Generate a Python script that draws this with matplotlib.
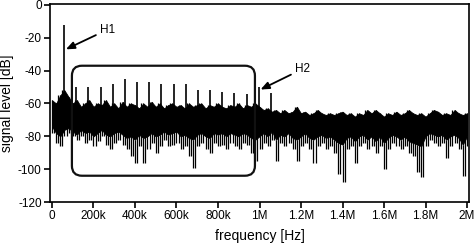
import matplotlib
matplotlib.use("Agg")
import matplotlib.pyplot as plt
from matplotlib.patches import FancyBboxPatch

plt.rcParams["font.family"] = ["Liberation Sans", "DejaVu Sans"]
plt.rcParams["axes.unicode_minus"] = False

# noise, one 20 kHz bin per value:
# top of the trace, bottom of the solid band, deepest dip
BIN_HZ = 20e3
noise_hi = [
    -58, -60, -55, -52, -56, -60, -58, -62, -60, -58,
    -62, -60, -61, -58, -62, -60, -63, -59, -62, -60,
    -61, -63, -60, -62, -59, -62, -60, -63, -61, -60,
    -62, -61, -63, -60, -62, -61, -60, -63, -61, -62,
    -60, -62, -63, -61, -62, -60, -63, -61, -62, -60,
    -62, -64, -63, -65, -64, -66, -64, -66, -65, -62,
    -66, -65, -67, -66, -64, -66, -67, -66, -67, -66,
    -65, -67, -66, -68, -66, -67, -64, -66, -64, -66,
    -68, -66, -67, -65, -67, -66, -64, -66, -67, -66,
    -68, -66, -64, -65, -67, -66, -67, -64, -66, -67,
    -66,
]
noise_mid = [
    -74, -78, -80, -76, -75, -77, -79, -76, -78, -77,
    -80, -78, -76, -79, -80, -78, -77, -79, -81, -80,
    -82, -79, -81, -80, -78, -80, -79, -77, -79, -78,
    -77, -80, -79, -81, -82, -79, -78, -80, -81, -78,
    -79, -78, -80, -78, -79, -80, -78, -79, -81, -82,
    -80, -78, -80, -77, -82, -79, -80, -78, -81, -82,
    -80, -78, -81, -82, -80, -79, -81, -80, -82, -84,
    -85, -81, -80, -83, -80, -79, -82, -80, -83, -80,
    -84, -81, -79, -80, -82, -80, -83, -84, -85, -86,
    -80, -78, -79, -80, -79, -82, -80, -79, -81, -85,
    -80,
]
noise_lo = [
    -78, -84, -86, -80, -78, -80, -82, -80, -84, -82,
    -86, -83, -80, -85, -88, -84, -82, -85, -88, -92,
    -96, -86, -96, -88, -84, -90, -86, -82, -86, -85,
    -84, -88, -86, -92, -99, -86, -84, -88, -90, -84,
    -86, -85, -88, -84, -86, -88, -84, -85, -90, -95,
    -88, -84, -86, -82, -95, -84, -86, -84, -88, -95,
    -86, -84, -88, -96, -86, -84, -88, -86, -90, -103,
    -108, -88, -86, -96, -86, -84, -88, -86, -90, -86,
    -100, -88, -84, -86, -88, -86, -90, -92, -102, -105,
    -86, -82, -84, -86, -84, -93, -86, -84, -88, -104,
    -86,
]

# harmonic lines (multiples of the fundamental)
F0_HZ = 58.6e3
harm_level = [-12, -50, -50, -50, -48, -45, -47, -47, -48, -48,
              -48, -51.5, -52, -53, -53.5, -54, -50, -53.5]

# highlight box around the harmonic comb
BOX_F = (96e3, 978e3)
BOX_DB = (-104, -37)

fig = plt.figure(figsize=(4.75, 2.5), dpi=100)
ax = fig.add_axes([50 / 475, 1 - 202 / 250, 419 / 475, 198 / 250])

freqs = [i * BIN_HZ for i in range(len(noise_hi))]
ax.fill_between(freqs, noise_hi, noise_mid, color="black", linewidth=0.6)

# thin spikes: up to the top value and down to the dip, half a bin apart
dip_f = [f + BIN_HZ / 2 for f in freqs[:-1]]
ax.vlines(freqs, noise_mid, noise_hi, color="black", linewidth=0.9)
ax.vlines(dip_f, noise_hi[1:], noise_lo[:-1], color="black", linewidth=0.9)
ax.vlines(freqs, noise_mid, noise_lo, color="black", linewidth=0.9)

harm_f = [n * F0_HZ for n in range(1, len(harm_level) + 1)]
ax.vlines(harm_f, -72, harm_level, color="black", linewidth=1.2)

ax.set_xlim(-9.6e3, 2.0096e6)
ax.set_ylim(-120, 0.6)

# rounded box; mutation_aspect converts Hz rounding into dB
px_hz = 1e6 / 207.5
px_db = 120.6 / 198
box = FancyBboxPatch((BOX_F[0], BOX_DB[0]), BOX_F[1] - BOX_F[0], BOX_DB[1] - BOX_DB[0],
                     boxstyle=f"round,pad=0,rounding_size={10 * px_hz}",
                     mutation_aspect=px_db / px_hz,
                     fill=False, edgecolor="#111111", linewidth=1.6, zorder=3)
ax.add_patch(box)

arrow = dict(arrowstyle="-|>,head_length=0.6,head_width=0.25", color="black",
             linewidth=1.3, shrinkA=1, shrinkB=0)
ax.annotate("H1", xy=(67e3, -27), xytext=(231e3, -15), fontsize=8.5,
            ha="left", va="center", arrowprops=arrow)
ax.annotate("H2", xy=(1.005e6, -51.5), xytext=(1.171e6, -39), fontsize=8.5,
            ha="left", va="center", arrowprops=arrow)

xticks = [0, 200e3, 400e3, 600e3, 800e3, 1e6, 1.2e6, 1.4e6, 1.6e6, 1.8e6, 2e6]
xlabels = ["0", "200k", "400k", "600k", "800k", "1M", "1.2M", "1.4M", "1.6M", "1.8M", "2M"]
ax.set_xticks(xticks, xlabels)
ax.set_yticks([0, -20, -40, -60, -80, -100, -120])
ax.tick_params(direction="out", length=4, width=1.2, labelsize=8.5, pad=2)
for s in ax.spines.values():
    s.set_linewidth(1.2)

ax.set_xlabel("frequency [Hz]", fontsize=10, labelpad=5)
ax.set_ylabel("signal level [dB]", fontsize=10, labelpad=3)

fig.savefig("out.png", dpi=100)
